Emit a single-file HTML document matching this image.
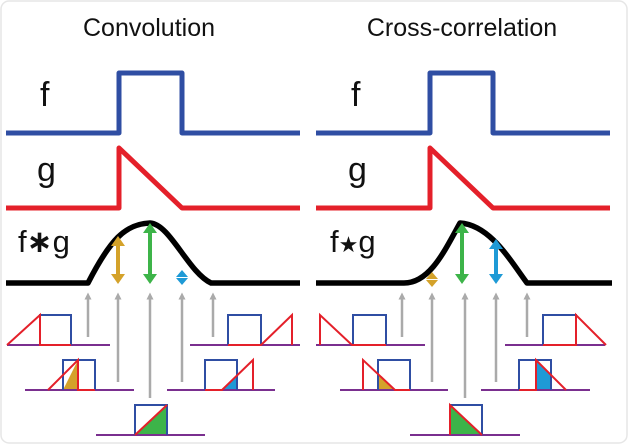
<!DOCTYPE html>
<html><head><style>
html,body{margin:0;padding:0;background:#fff;width:628px;height:444px;overflow:hidden}
svg{display:block}
text{font-family:"Liberation Sans","DejaVu Sans",sans-serif;fill:#111}
</style></head><body>
<svg width="628" height="444" viewBox="0 0 628 444">
<rect x="1" y="1" width="626" height="442" rx="8" fill="#fff" stroke="#e6e6e6" stroke-width="1.5"/>
<defs>
<marker id="ga" markerUnits="userSpaceOnUse" markerWidth="7" markerHeight="7" refX="3.5" refY="3.5" orient="auto"><path d="M0,0 L7,3.5 L0,7 z" fill="#aaa"/></marker>
</defs>
<text x="149" y="36" font-size="25" text-anchor="middle">Convolution</text>
<text x="462" y="36" font-size="25" text-anchor="middle">Cross-correlation</text>
<text x="40" y="106" font-size="34">f</text>
<text x="37" y="181" font-size="34">g</text>
<text x="351" y="106" font-size="34">f</text>
<text x="348" y="181" font-size="34">g</text>
<text x="18" y="252" font-size="31">f<tspan font-weight="bold">∗</tspan>g</text>
<text x="330" y="252" font-size="31">f<tspan font-size="22">★</tspan>g</text>
<g fill="none" stroke-width="5" stroke-linejoin="round">
<path d="M6,133 H119 V73 H182 V133 H300" stroke="#2f4ea3"/>
<path d="M6,208 H119 V148 L182,208 H300" stroke="#e4202a"/>
<path d="M316,133 H430 V73 H493 V133 H610" stroke="#2f4ea3"/>
<path d="M316,208 H430 V148 L493,208 H610" stroke="#e4202a"/>
<path d="M6,283 H88 C110,240 125,224 150,223 C170,224 188,272 211,283 H300" stroke="#000" stroke-width="5.5"/>
<path d="M316,283 H404 C430,283 445,250 460,223 C490,225 510,260 527,283 H612" stroke="#000" stroke-width="5.5"/>
</g>
<g stroke="#aaa" stroke-width="2.5">
<line x1="88" y1="337" x2="88" y2="296" marker-end="url(#ga)"/>
<line x1="118" y1="382" x2="118" y2="296" marker-end="url(#ga)"/>
<line x1="150" y1="398" x2="150" y2="296" marker-end="url(#ga)"/>
<line x1="182" y1="382" x2="182" y2="296" marker-end="url(#ga)"/>
<line x1="213" y1="337" x2="213" y2="296" marker-end="url(#ga)"/>
<line x1="402" y1="337" x2="402" y2="296" marker-end="url(#ga)"/>
<line x1="432" y1="382" x2="432" y2="296" marker-end="url(#ga)"/>
<line x1="465" y1="398" x2="465" y2="296" marker-end="url(#ga)"/>
<line x1="496" y1="382" x2="496" y2="296" marker-end="url(#ga)"/>
<line x1="527" y1="337" x2="527" y2="296" marker-end="url(#ga)"/>
</g>
<g stroke-width="4">
<line x1="118" y1="245" x2="118" y2="276" stroke="#d4a22a"/>
<path d="M111,246 L118,236 L125,246z M111,274 L118,284 L125,274z" fill="#d4a22a" stroke="none"/>
<line x1="150" y1="232" x2="150" y2="276" stroke="#3db449"/>
<path d="M143,233 L150,223 L157,233z M143,274 L150,284 L157,274z" fill="#3db449" stroke="none"/>
<path d="M176,277 L182,270 L188,277z M176,278 L182,285 L188,278z" fill="#1e9ad6" stroke="none"/>
<path d="M426,279 L432,272 L438,279z M426,280 L432,287 L438,280z" fill="#d4a22a" stroke="none"/>
<line x1="462" y1="232" x2="462" y2="276" stroke="#3db449"/>
<path d="M455,233 L462,223 L469,233z M455,274 L462,284 L469,274z" fill="#3db449" stroke="none"/>
<line x1="496" y1="248" x2="496" y2="276" stroke="#1e9ad6"/>
<path d="M489,249 L496,239 L503,249z M489,274 L496,284 L503,274z" fill="#1e9ad6" stroke="none"/>
</g>
<path d="M63,390 H78 V360 z" fill="#d4a22a"/>
<path d="M222,390 H237 V375 z" fill="#1e9ad6"/>
<path d="M135,435 H167 V405 z" fill="#3db449"/>
<path d="M378,375 L395,390 H378 z" fill="#d4a22a"/>
<path d="M536,360 V390 H551 V375 z" fill="#1e9ad6"/>
<path d="M450,405 V435 H482 z" fill="#3db449"/>
<g fill="none" stroke-width="2">
<line x1="7" y1="345" x2="110" y2="345" stroke="#7a2f8f"/>
<path d="M40,345 V315 H71 V345" stroke="#2f4ea3"/><path d="M7,345 L40,315 V345 H71" stroke="#e4202a"/>
<line x1="190" y1="345" x2="300" y2="345" stroke="#7a2f8f"/>
<path d="M228,345 V315 H261 V345" stroke="#2f4ea3"/><path d="M228,345 H261 L292,315 V345" stroke="#e4202a"/>
<line x1="25" y1="390" x2="134" y2="390" stroke="#7a2f8f"/>
<path d="M63,390 V360 H95 V390" stroke="#2f4ea3"/><path d="M48,390 L78,360 V390 H95" stroke="#e4202a"/>
<line x1="167" y1="390" x2="275" y2="390" stroke="#7a2f8f"/>
<path d="M205,390 V360 H237 V390" stroke="#2f4ea3"/><path d="M205,390 H222 L253,360 V390" stroke="#e4202a"/>
<line x1="96" y1="435" x2="205" y2="435" stroke="#7a2f8f"/>
<path d="M135,435 V405 H167 V435" stroke="#2f4ea3"/><path d="M135,435 L167,405" stroke="#e4202a"/>
<line x1="316" y1="345" x2="425" y2="345" stroke="#7a2f8f"/>
<path d="M353,345 V315 H386 V345" stroke="#2f4ea3"/><path d="M320,345 V315 L352,345 H386" stroke="#e4202a"/>
<line x1="505" y1="345" x2="605" y2="345" stroke="#7a2f8f"/>
<path d="M543,345 V315 H576 V345" stroke="#2f4ea3"/><path d="M543,345 H576 V315 L606,345" stroke="#e4202a"/>
<line x1="340" y1="390" x2="448" y2="390" stroke="#7a2f8f"/>
<path d="M378,390 V360 H410 V390" stroke="#2f4ea3"/><path d="M363,390 V360 L395,390 H410" stroke="#e4202a"/>
<line x1="481" y1="390" x2="590" y2="390" stroke="#7a2f8f"/>
<path d="M519,390 V360 H551 V390" stroke="#2f4ea3"/><path d="M519,390 H536 V360 L566,390" stroke="#e4202a"/>
<line x1="410" y1="435" x2="520" y2="435" stroke="#7a2f8f"/>
<path d="M450,435 V405 H482 V435" stroke="#2f4ea3"/><path d="M450,435 V405 L482,435" stroke="#e4202a"/>
</g>
</svg>
</body></html>
